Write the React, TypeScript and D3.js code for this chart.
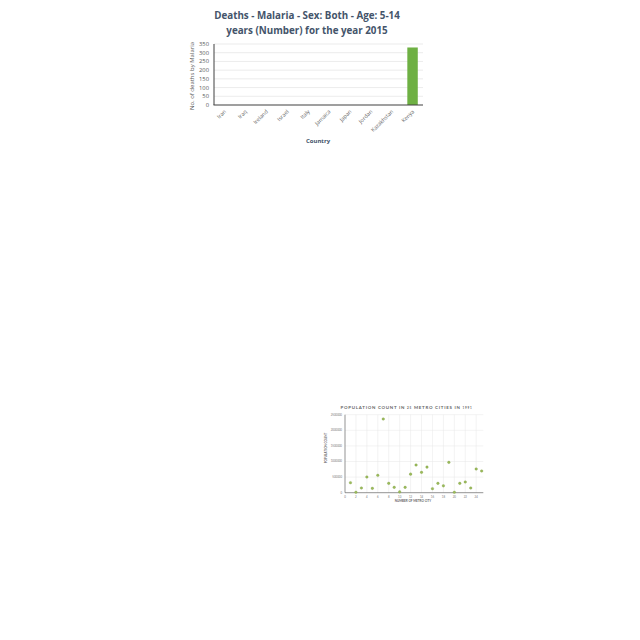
import * as d3 from 'd3';

// bar chart data
const countries = ['Iran', 'Iraq', 'Ireland', 'Israel', 'Italy', 'Jamaica', 'Japan', 'Jordan', 'Kazakhstan', 'Kenya'];
const deaths = [0, 0, 0, 0, 0, 0, 0, 0, 0, 330];
const deathTicks = [0, 50, 100, 150, 200, 250, 300, 350];

// scatter data
const cityNumber = [1, 2, 3, 4, 5, 6, 7, 8, 9, 10, 11, 12, 13, 14, 15, 16, 17, 18, 19, 20, 21, 22, 23, 24, 25];
const population = [
  320000, 15000, 150000, 503000, 140000, 557000, 2362000, 300000, 172000, 25000,
  172000, 595000, 888000, 653000, 820000, 129000, 300000, 220000, 973000, 15000,
  300000, 343000, 150000, 760000, 695000,
];
const popTicks = [0, 500000, 1000000, 1500000, 2000000, 2500000];
const cityTicks = [0, 2, 4, 6, 8, 10, 12, 14, 16, 18, 20, 22, 24];

const BarChart = () => {
  const x = d3.scaleBand().domain(countries).range([214, 423]).paddingInner(0.5).paddingOuter(0.25);
  const y = d3.scaleLinear().domain([0, 350]).range([105, 44]);
  const font = 'Open Sans, sans-serif';
  return (
    <g fontFamily={font}>
      <text x={307} y={19} textAnchor="middle" fontSize={9.8} fontWeight="bold" fill="#44546a">
        Deaths - Malaria - Sex: Both - Age: 5-14
      </text>
      <text x={307} y={33.5} textAnchor="middle" fontSize={9.8} fontWeight="bold" fill="#44546a">
        years (Number) for the year 2015
      </text>
      {deathTicks.map((t) => (
        <g key={t}>
          {t > 0 && <line x1={214} x2={423} y1={y(t)} y2={y(t)} stroke="#e3e3e3" strokeWidth={0.7} />}
          <text x={209} y={y(t)} dy="0.35em" textAnchor="end" fontSize={5.8} fill="#595959">
            {t}
          </text>
        </g>
      ))}
      {countries.map((c, i) => (
        <rect key={c} x={x(c)} width={x.bandwidth()} y={y(deaths[i])} height={y(0) - y(deaths[i])} fill="#6eb043" />
      ))}
      <line x1={214} x2={214} y1={y(350)} y2={y(0)} stroke="#404040" strokeWidth={1} />
      <line x1={213.5} x2={423} y1={y(0)} y2={y(0)} stroke="#404040" strokeWidth={1.2} />
      {countries.map((c) => {
        const cx = (x(c) ?? 0) + x.bandwidth() / 2;
        return (
          <text key={c} transform={`translate(${cx + 2},${112}) rotate(-45)`} textAnchor="end" fontSize={5.4} fill="#6a6a6a">
            {c}
          </text>
        );
      })}
      <text x={318} y={143} textAnchor="middle" fontSize={6} fontWeight="bold" fill="#44546a">
        Country
      </text>
      <text transform="translate(194,76) rotate(-90)" textAnchor="middle" fontSize={6} fill="#595959">
        No. of deaths by Malaria
      </text>
    </g>
  );
};

const ScatterChart = () => {
  const x = d3.scaleLinear().domain([0, 25.3]).range([345, 483.3]);
  const y = d3.scaleLinear().domain([0, 2500000]).range([492.7, 414.7]);
  const font = 'Lato, Open Sans, sans-serif';
  return (
    <g fontFamily={font}>
      <text x={406.5} y={409} textAnchor="middle" fontSize={4.4} fontWeight="bold" fill="#666" letterSpacing={0.75}>
        POPULATION COUNT IN <tspan fontSize={3}>25</tspan> METRO CITIES IN <tspan fontSize={3}>1991</tspan>
      </text>
      {popTicks.map((t) => (
        <g key={t}>
          {t > 0 && <line x1={345} x2={483.3} y1={y(t)} y2={y(t)} stroke="#e6e6e6" strokeWidth={0.5} />}
          <text x={342} y={y(t)} dy="0.35em" textAnchor="end" fontSize={2.8} fill="#777">
            {t}
          </text>
        </g>
      ))}
      {cityTicks.map((t) => (
        <g key={t}>
          {t > 0 && <line x1={x(t)} x2={x(t)} y1={y(2500000)} y2={y(0)} stroke="#e6e6e6" strokeWidth={0.5} />}
          <text x={x(t)} y={497.5} textAnchor="middle" fontSize={2.8} fill="#777">
            {t}
          </text>
        </g>
      ))}
      <line x1={345} x2={345} y1={y(2500000)} y2={y(0)} stroke="#666" strokeWidth={0.7} />
      <line x1={345} x2={483.3} y1={y(0)} y2={y(0)} stroke="#666" strokeWidth={0.7} />
      {cityNumber.map((c, i) => (
        <circle key={c} cx={x(c)} cy={y(population[i])} r={1.3} fill="#9bbb5a" stroke="#7a9a40" strokeWidth={0.3} />
      ))}
      <text x={413} y={502} textAnchor="middle" fontSize={3} fontWeight="bold" fill="#666">
        NUMBER OF METRO CITY
      </text>
      <text transform="translate(327,448) rotate(-90)" textAnchor="middle" fontSize={3} fontWeight="bold" fill="#666">
        POPULATION COUNT
      </text>
    </g>
  );
};

const App = () => {
  return (
    <svg width={640} height={640} style={{ position: 'absolute', left: 0, top: 0, background: '#fff' }}>
      <BarChart />
      <ScatterChart />
    </svg>
  );
};

export default App;
